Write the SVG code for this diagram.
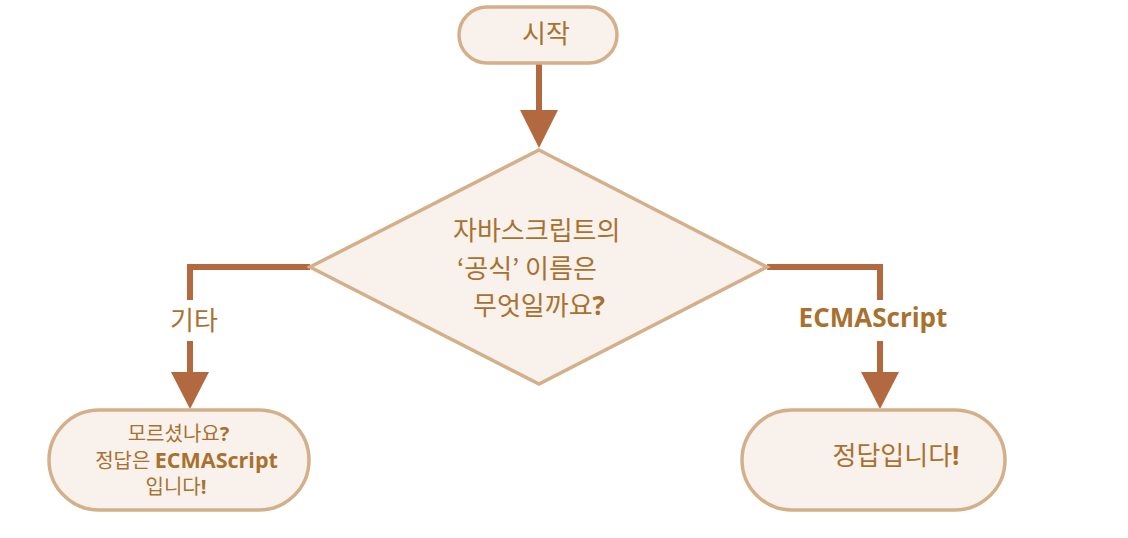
<svg xmlns="http://www.w3.org/2000/svg" width="1128" height="538" viewBox="0 0 1128 538">
<style>
.node{fill:#f9f1ec;stroke:#d4b08a;stroke-width:3.5}
.conn{fill:none;stroke:#b2693f;stroke-width:6}
.head{fill:#b2693f}
.t{font-family:"Noto Sans CJK KR","Open Sans",sans-serif;fill:#a8712f;font-size:26px}
.s{font-size:20px}
.b{font-family:"Open Sans","Noto Sans CJK KR",sans-serif;font-weight:bold}
</style>
<rect width="1128" height="538" fill="#ffffff"/>
<g id="connectors">
<line class="conn" x1="539" y1="63" x2="539" y2="112"/>
<polygon class="head" points="520,110 558,110 539,148"/>
<polyline class="conn" points="310,267 190,267 190,300"/>
<line class="conn" x1="190" y1="341" x2="190" y2="374"/>
<polygon class="head" points="171,372 209,372 190,409"/>
<polyline class="conn" points="767,267 880,267 880,300"/>
<line class="conn" x1="880" y1="341" x2="880" y2="374"/>
<polygon class="head" points="861,372 899,372 880,409"/>
<text class="t" x="194" y="330" text-anchor="middle">기타</text>
<text class="t b" x="873" y="327" text-anchor="middle" font-size="28">ECMAScript</text>
</g>
<g id="start">
<rect class="node" x="459" y="7" width="158" height="56" rx="28"/>
<text class="t" x="546" y="43" text-anchor="middle" font-size="25">시작</text>
</g>
<g id="decision">
<polygon class="node" points="539,150 767,267 539,384 310,267"/>
<text class="t" x="453" y="240">자바스크립트의</text>
<text class="t" x="457" y="278">‘공식’ 이름은</text>
<text class="t" x="473" y="315">무엇일까요<tspan class="b">?</tspan></text>
</g>
<g id="wrong">
<rect class="node" x="49" y="410" width="260" height="100" rx="50"/>
<text class="t s" x="178.5" y="441" text-anchor="middle">모르셨나요<tspan class="b">?</tspan></text>
<text class="t s" x="186.5" y="468" text-anchor="middle">정답은 <tspan class="b" font-size="21.5">ECMAScript</tspan></text>
<text class="t s" x="176" y="494" text-anchor="middle">입니다<tspan class="b">!</tspan></text>
</g>
<g id="right">
<rect class="node" x="742" y="410" width="263" height="100" rx="50"/>
<text class="t" x="896" y="465" text-anchor="middle" font-size="26.5">정답입니다<tspan class="b">!</tspan></text>
</g>
</svg>
